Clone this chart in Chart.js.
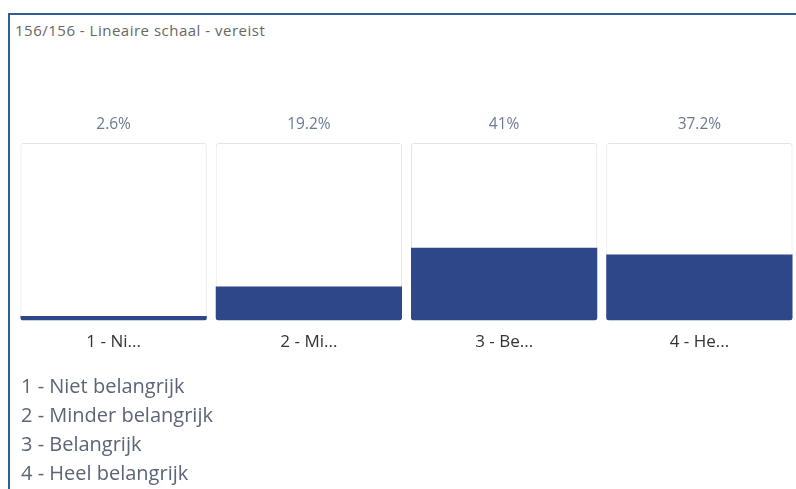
<!DOCTYPE html>
<html>
<head>
<meta charset="utf-8">
<script src="https://cdn.jsdelivr.net/npm/chart.js@4.4.1/dist/chart.umd.min.js"></script>
<style>
  html, body { margin: 0; padding: 0; background: #fff; overflow: hidden; }
  body { width: 796px; height: 489px; position: relative; font-family: "Open Sans", Lato, sans-serif; }
  .frame { position: absolute; left: 8px; top: 13px; width: 800px; height: 500px;
           border-left: 2px solid #335c93; border-top: 2px solid #335c93; }
  .title { position: absolute; left: 15px; top: 20px; font-size: 15px; letter-spacing: 0.5px; color: #666; }
  .chart-wrap { position: absolute; left: 16px; top: 100px; width: 781px; height: 272px; }
  .legend { position: absolute; left: 21px; top: 371px; font-size: 20px; color: #5b6577; line-height: 29px; }
</style>
</head>
<body>
<div class="frame"></div>
<div class="title">156/156 - Lineaire schaal - vereist</div>
<div class="chart-wrap"><canvas id="chart"></canvas></div>
<div class="legend" id="legend"></div>
<script>
const categories = ['1 - Niet belangrijk', '2 - Minder belangrijk', '3 - Belangrijk', '4 - Heel belangrijk'];
const percentages = [2.6, 19.2, 41, 37.2];
const fullScale = [100, 100, 100, 100];

document.addEventListener('DOMContentLoaded', () => {
  const legend = document.getElementById('legend');
  categories.forEach(c => {
    const row = document.createElement('div');
    row.textContent = c;
    legend.appendChild(row);
  });
  initChart();
});

const valueLabels = {
  id: 'valueLabels',
  afterDatasetsDraw(chart) {
    const { ctx, chartArea } = chart;
    const meta = chart.getDatasetMeta(1);
    ctx.save();
    ctx.font = '15.5px "Open Sans", Lato, sans-serif';
    ctx.fillStyle = '#6b7a8f';
    ctx.textAlign = 'center';
    ctx.textBaseline = 'middle';
    meta.data.forEach((bar, i) => {
      ctx.fillText(percentages[i] + '%', bar.x, chartArea.top - 18);
    });
    ctx.restore();
  }
};

function initChart() {
  const ctx = document.getElementById('chart');
  new Chart(ctx, {
    type: 'bar',
    data: {
      labels: categories,
      datasets: [
        {
          label: 'Waarde',
          data: percentages,
          backgroundColor: '#2d4788',
          borderWidth: 0,
          borderRadius: { bottomLeft: 3, bottomRight: 3, topLeft: 0, topRight: 0 },
          borderSkipped: false,
          order: 0
        },
        {
          label: 'Schaal',
          data: fullScale,
          backgroundColor: '#ffffff',
          borderColor: '#e4e4e4',
          borderWidth: 1,
          borderRadius: 3,
          borderSkipped: false,
          order: 1
        }
      ]
    },
    plugins: [valueLabels],
    options: {
      responsive: true,
      maintainAspectRatio: false,
      animation: false,
      grouped: false,
      barPercentage: 1,
      categoryPercentage: 0.954,
      layout: { padding: { top: 43, bottom: 8, left: 0, right: 0 } },
      plugins: {
        legend: { display: false },
        tooltip: { enabled: false }
      },
      scales: {
        y: { display: false, min: 0, max: 100 },
        x: {
          grid: { display: false, drawTicks: false },
          border: { display: false },
          ticks: {
            color: '#333',
            padding: 11.5,
            font: { size: 17, family: '"Open Sans", Lato, sans-serif' },
            maxRotation: 0,
            callback: function (value) {
              return this.getLabelForValue(value).slice(0, 6) + '...';
            }
          }
        }
      }
    }
  });
}
</script>
</body>
</html>
